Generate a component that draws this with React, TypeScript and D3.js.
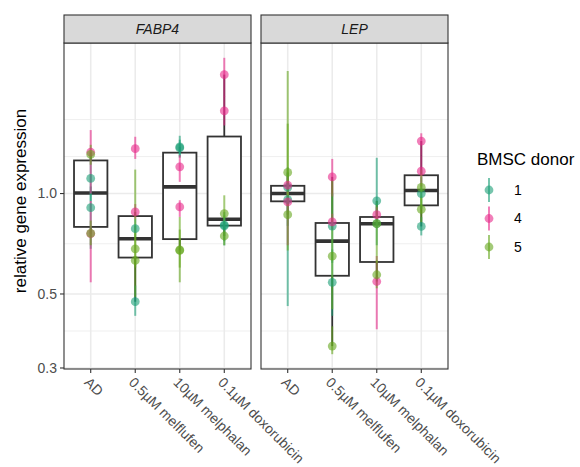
import React from 'react';
import * as d3 from 'd3';

const genes = ['FABP4', 'LEP'];
const treatments = ['AD', '0.5µM melflufen', '10µM melphalan', '0.1µM doxorubicin'];
const donors = ['1', '4', '5'];
const donorColors = ['#1B9E77', '#E7298A', '#66A61E'];
const yTicks = [0.3, 0.5, 1.0];

// [treatment, donor, value, low, high] - two replicates per donor
type Row = [string, string, number, number, number];

const fabp4Rows: Row[] = [
  ['AD', '1', 1.11, 0.95, 1.3],
  ['AD', '1', 0.907, 0.683, 1.05],
  ['AD', '4', 1.33, 1.0, 1.55],
  ['AD', '4', 0.758, 0.542, 0.95],
  ['AD', '5', 1.31, 1.22, 1.4],
  ['AD', '5', 0.76, 0.7, 0.83],
  ['0.5µM melflufen', '1', 0.785, 0.74, 0.84],
  ['0.5µM melflufen', '1', 0.474, 0.43, 0.53],
  ['0.5µM melflufen', '4', 1.363, 1.27, 1.48],
  ['0.5µM melflufen', '4', 0.881, 0.84, 0.93],
  ['0.5µM melflufen', '5', 0.683, 0.6, 1.18],
  ['0.5µM melflufen', '5', 0.63, 0.49, 0.8],
  ['10µM melphalan', '1', 1.38, 1.28, 1.49],
  ['10µM melphalan', '1', 1.37, 1.29, 1.45],
  ['10µM melphalan', '4', 1.203, 1.084, 1.304],
  ['10µM melphalan', '4', 0.912, 0.851, 0.955],
  ['10µM melphalan', '5', 0.675, 0.542, 0.851],
  ['10µM melphalan', '5', 0.678, 0.6, 0.78],
  ['0.1µM doxorubicin', '1', 0.806, 0.72, 0.88],
  ['0.1µM doxorubicin', '1', 0.8, 0.699, 0.86],
  ['0.1µM doxorubicin', '4', 2.272, 1.955, 2.552],
  ['0.1µM doxorubicin', '4', 1.77, 1.6, 1.96],
  ['0.1µM doxorubicin', '5', 0.871, 0.8, 0.988],
  ['0.1µM doxorubicin', '5', 0.746, 0.7, 0.8],
];

const lepRows: Row[] = [
  ['AD', '1', 1.043, 0.46, 1.2],
  ['AD', '1', 0.959, 0.8, 1.15],
  ['AD', '4', 1.059, 1.0, 1.12],
  ['AD', '4', 0.944, 0.7, 1.02],
  ['AD', '5', 1.157, 0.92, 2.33],
  ['AD', '5', 0.864, 0.675, 1.62],
  ['0.5µM melflufen', '1', 0.799, 0.62, 1.0],
  ['0.5µM melflufen', '1', 0.542, 0.43, 0.68],
  ['0.5µM melflufen', '4', 1.122, 0.98, 1.27],
  ['0.5µM melflufen', '4', 0.822, 0.78, 0.87],
  ['0.5µM melflufen', '5', 0.649, 0.45, 1.1],
  ['0.5µM melflufen', '5', 0.349, 0.33, 0.4],
  ['10µM melphalan', '1', 0.951, 0.8, 1.28],
  ['10µM melphalan', '1', 0.812, 0.7, 0.94],
  ['10µM melphalan', '4', 0.864, 0.82, 0.91],
  ['10µM melphalan', '4', 0.545, 0.392, 0.65],
  ['10µM melphalan', '5', 0.812, 0.62, 0.95],
  ['10µM melphalan', '5', 0.571, 0.52, 0.63],
  ['0.1µM doxorubicin', '1', 1.0, 0.9, 1.12],
  ['0.1µM doxorubicin', '1', 0.797, 0.749, 0.85],
  ['0.1µM doxorubicin', '4', 1.437, 1.3, 1.516],
  ['0.1µM doxorubicin', '4', 1.167, 1.05, 1.3],
  ['0.1µM doxorubicin', '5', 1.043, 0.92, 1.18],
  ['0.1µM doxorubicin', '5', 0.897, 0.82, 0.98],
];

const geneRows = [fabp4Rows, lepRows];

const W = 580;
const H = 467;
const panelTop = 43;
const panelBottom = 369;
const panelLeft = 64;
const panelW = 187;
const panelGap = 10;
const stripH = 28;
const font = '"Liberation Sans", Arial, Helvetica, sans-serif';
const alpha = 0.6;

const allRows = [...fabp4Rows, ...lepRows];
const logLo = d3.min(allRows, (r) => Math.log10(r[3]))!;
const logHi = d3.max(allRows, (r) => Math.log10(r[4]))!;
const pad = (logHi - logLo) * 0.05;

const y = d3
  .scaleLog()
  .domain([10 ** (logLo - pad), 10 ** (logHi + pad)])
  .range([panelBottom, panelTop]);

const x = d3.scalePoint<string>().domain(treatments).range([0, panelW]).padding(0.6);
const color = d3.scaleOrdinal<string, string>().domain(donors).range(donorColors);

// ggplot style minor breaks: midpoints between majors, extended one step past the ends
const minorTicks = (() => {
  const lt = yTicks.map(Math.log10);
  const bd = lt[1] - lt[0];
  const ext = [lt[0] - bd, ...lt, lt[lt.length - 1] + bd];
  const out: number[] = [];
  for (let i = 0; i < ext.length - 1; i++) out.push((ext[i] + ext[i + 1]) / 2);
  out.push(ext[ext.length - 1]);
  const [d0, d1] = y.domain().map(Math.log10);
  return out.filter((v) => v >= d0 && v <= d1 && !lt.includes(v)).map((v) => 10 ** v);
})();

function boxStats(vals: number[]) {
  const s = vals.map(Math.log10).sort(d3.ascending);
  const q1 = d3.quantileSorted(s, 0.25)!;
  const med = d3.quantileSorted(s, 0.5)!;
  const q3 = d3.quantileSorted(s, 0.75)!;
  const iqr = q3 - q1;
  const lo = d3.min(s.filter((v) => v >= q1 - 1.5 * iqr))!;
  const hi = d3.max(s.filter((v) => v <= q3 + 1.5 * iqr))!;
  return { lo: 10 ** lo, q1: 10 ** q1, med: 10 ** med, q3: 10 ** q3, hi: 10 ** hi };
}

const Panel = ({ gene, rows, left }: { gene: string; rows: Row[]; left: number }) => {
  const boxW = x.step() * 0.75;
  return (
    <g transform={`translate(${left},0)`}>
      <rect x={0} y={panelTop} width={panelW} height={panelBottom - panelTop} fill="white" />
      {minorTicks.map((t) => (
        <line key={'mn' + t} x1={0} x2={panelW} y1={y(t)} y2={y(t)} stroke="#EBEBEB" strokeWidth={0.8} />
      ))}
      {yTicks.map((t) => (
        <line key={'mj' + t} x1={0} x2={panelW} y1={y(t)} y2={y(t)} stroke="#EBEBEB" strokeWidth={1.6} />
      ))}
      {treatments.map((t) => (
        <line key={'vx' + t} x1={x(t)} x2={x(t)} y1={panelTop} y2={panelBottom} stroke="#EBEBEB" strokeWidth={1.6} />
      ))}
      {treatments.map((t) => {
        const b = boxStats(rows.filter((r) => r[0] === t).map((r) => r[2]));
        const cx = x(t)!;
        return (
          <g key={'bx' + t} stroke="#333333" fill="none">
            <line x1={cx} x2={cx} y1={y(b.q3)} y2={y(b.hi)} strokeWidth={1.8} />
            <line x1={cx} x2={cx} y1={y(b.q1)} y2={y(b.lo)} strokeWidth={1.8} />
            <rect
              x={cx - boxW / 2}
              y={y(b.q3)}
              width={boxW}
              height={y(b.q1) - y(b.q3)}
              fill="white"
              strokeWidth={1.8}
            />
            <line x1={cx - boxW / 2} x2={cx + boxW / 2} y1={y(b.med)} y2={y(b.med)} strokeWidth={3.6} />
          </g>
        );
      })}
      {rows.map((r, i) => (
        <line
          key={'er' + i}
          x1={x(r[0])}
          x2={x(r[0])}
          y1={y(r[3])}
          y2={y(r[4])}
          stroke={color(r[1])}
          strokeOpacity={alpha}
          strokeWidth={2}
        />
      ))}
      {rows.map((r, i) => (
        <circle key={'pt' + i} cx={x(r[0])} cy={y(r[2])} r={4.4} fill={color(r[1])} fillOpacity={alpha} />
      ))}
      <rect
        x={0}
        y={panelTop}
        width={panelW}
        height={panelBottom - panelTop}
        fill="none"
        stroke="#333333"
        strokeWidth={1.1}
      />
      <rect
        x={0}
        y={panelTop - stripH}
        width={panelW}
        height={stripH}
        fill="#D9D9D9"
        stroke="#333333"
        strokeWidth={1.1}
      />
      <text
        x={panelW / 2}
        y={panelTop - stripH / 2}
        dy="0.35em"
        textAnchor="middle"
        fontStyle="italic"
        fontSize={14}
        fill="#1A1A1A"
      >
        {gene}
      </text>
      {treatments.map((t) => (
        <g key={'xt' + t}>
          <line x1={x(t)} x2={x(t)} y1={panelBottom} y2={panelBottom + 4} stroke="#333333" strokeWidth={1.1} />
          <text
            transform={`translate(${x(t)},${panelBottom + 7}) rotate(45)`}
            dy="0.72em"
            fontSize={14}
            fill="#4D4D4D"
          >
            {t}
          </text>
        </g>
      ))}
    </g>
  );
};

export default function App() {
  return (
    <div style={{ position: 'absolute', left: 0, top: 0 }}>
      <svg width={W} height={H} style={{ display: 'block', fontFamily: font }}>
        <rect width={W} height={H} fill="white" />
        {genes.map((g, i) => (
          <Panel key={g} gene={g} rows={geneRows[i]} left={panelLeft + i * (panelW + panelGap)} />
        ))}
        {yTicks.map((t) => (
          <g key={'yt' + t}>
            <line x1={panelLeft - 4} x2={panelLeft} y1={y(t)} y2={y(t)} stroke="#333333" strokeWidth={1.1} />
            <text x={panelLeft - 7} y={y(t)} dy="0.35em" textAnchor="end" fontSize={14} fill="#4D4D4D">
              {d3.format('.1f')(t)}
            </text>
          </g>
        ))}
        <text transform="translate(26,201) rotate(-90)" textAnchor="middle" fontSize={17} fill="black">
          relative gene expression
        </text>
        <g>
          <text x={477} y={165} fontSize={17} fill="black">
            BMSC donor
          </text>
          {donors.map((d, i) => {
            const cy = 190 + i * 28.5;
            return (
              <g key={'lg' + d}>
                <line
                  x1={489}
                  x2={489}
                  y1={cy - 12}
                  y2={cy + 12}
                  stroke={color(d)}
                  strokeOpacity={alpha}
                  strokeWidth={2}
                />
                <circle cx={489} cy={cy} r={4.4} fill={color(d)} fillOpacity={alpha} />
                <text x={514} y={cy} dy="0.35em" fontSize={14} fill="black">
                  {d}
                </text>
              </g>
            );
          })}
        </g>
      </svg>
    </div>
  );
}
